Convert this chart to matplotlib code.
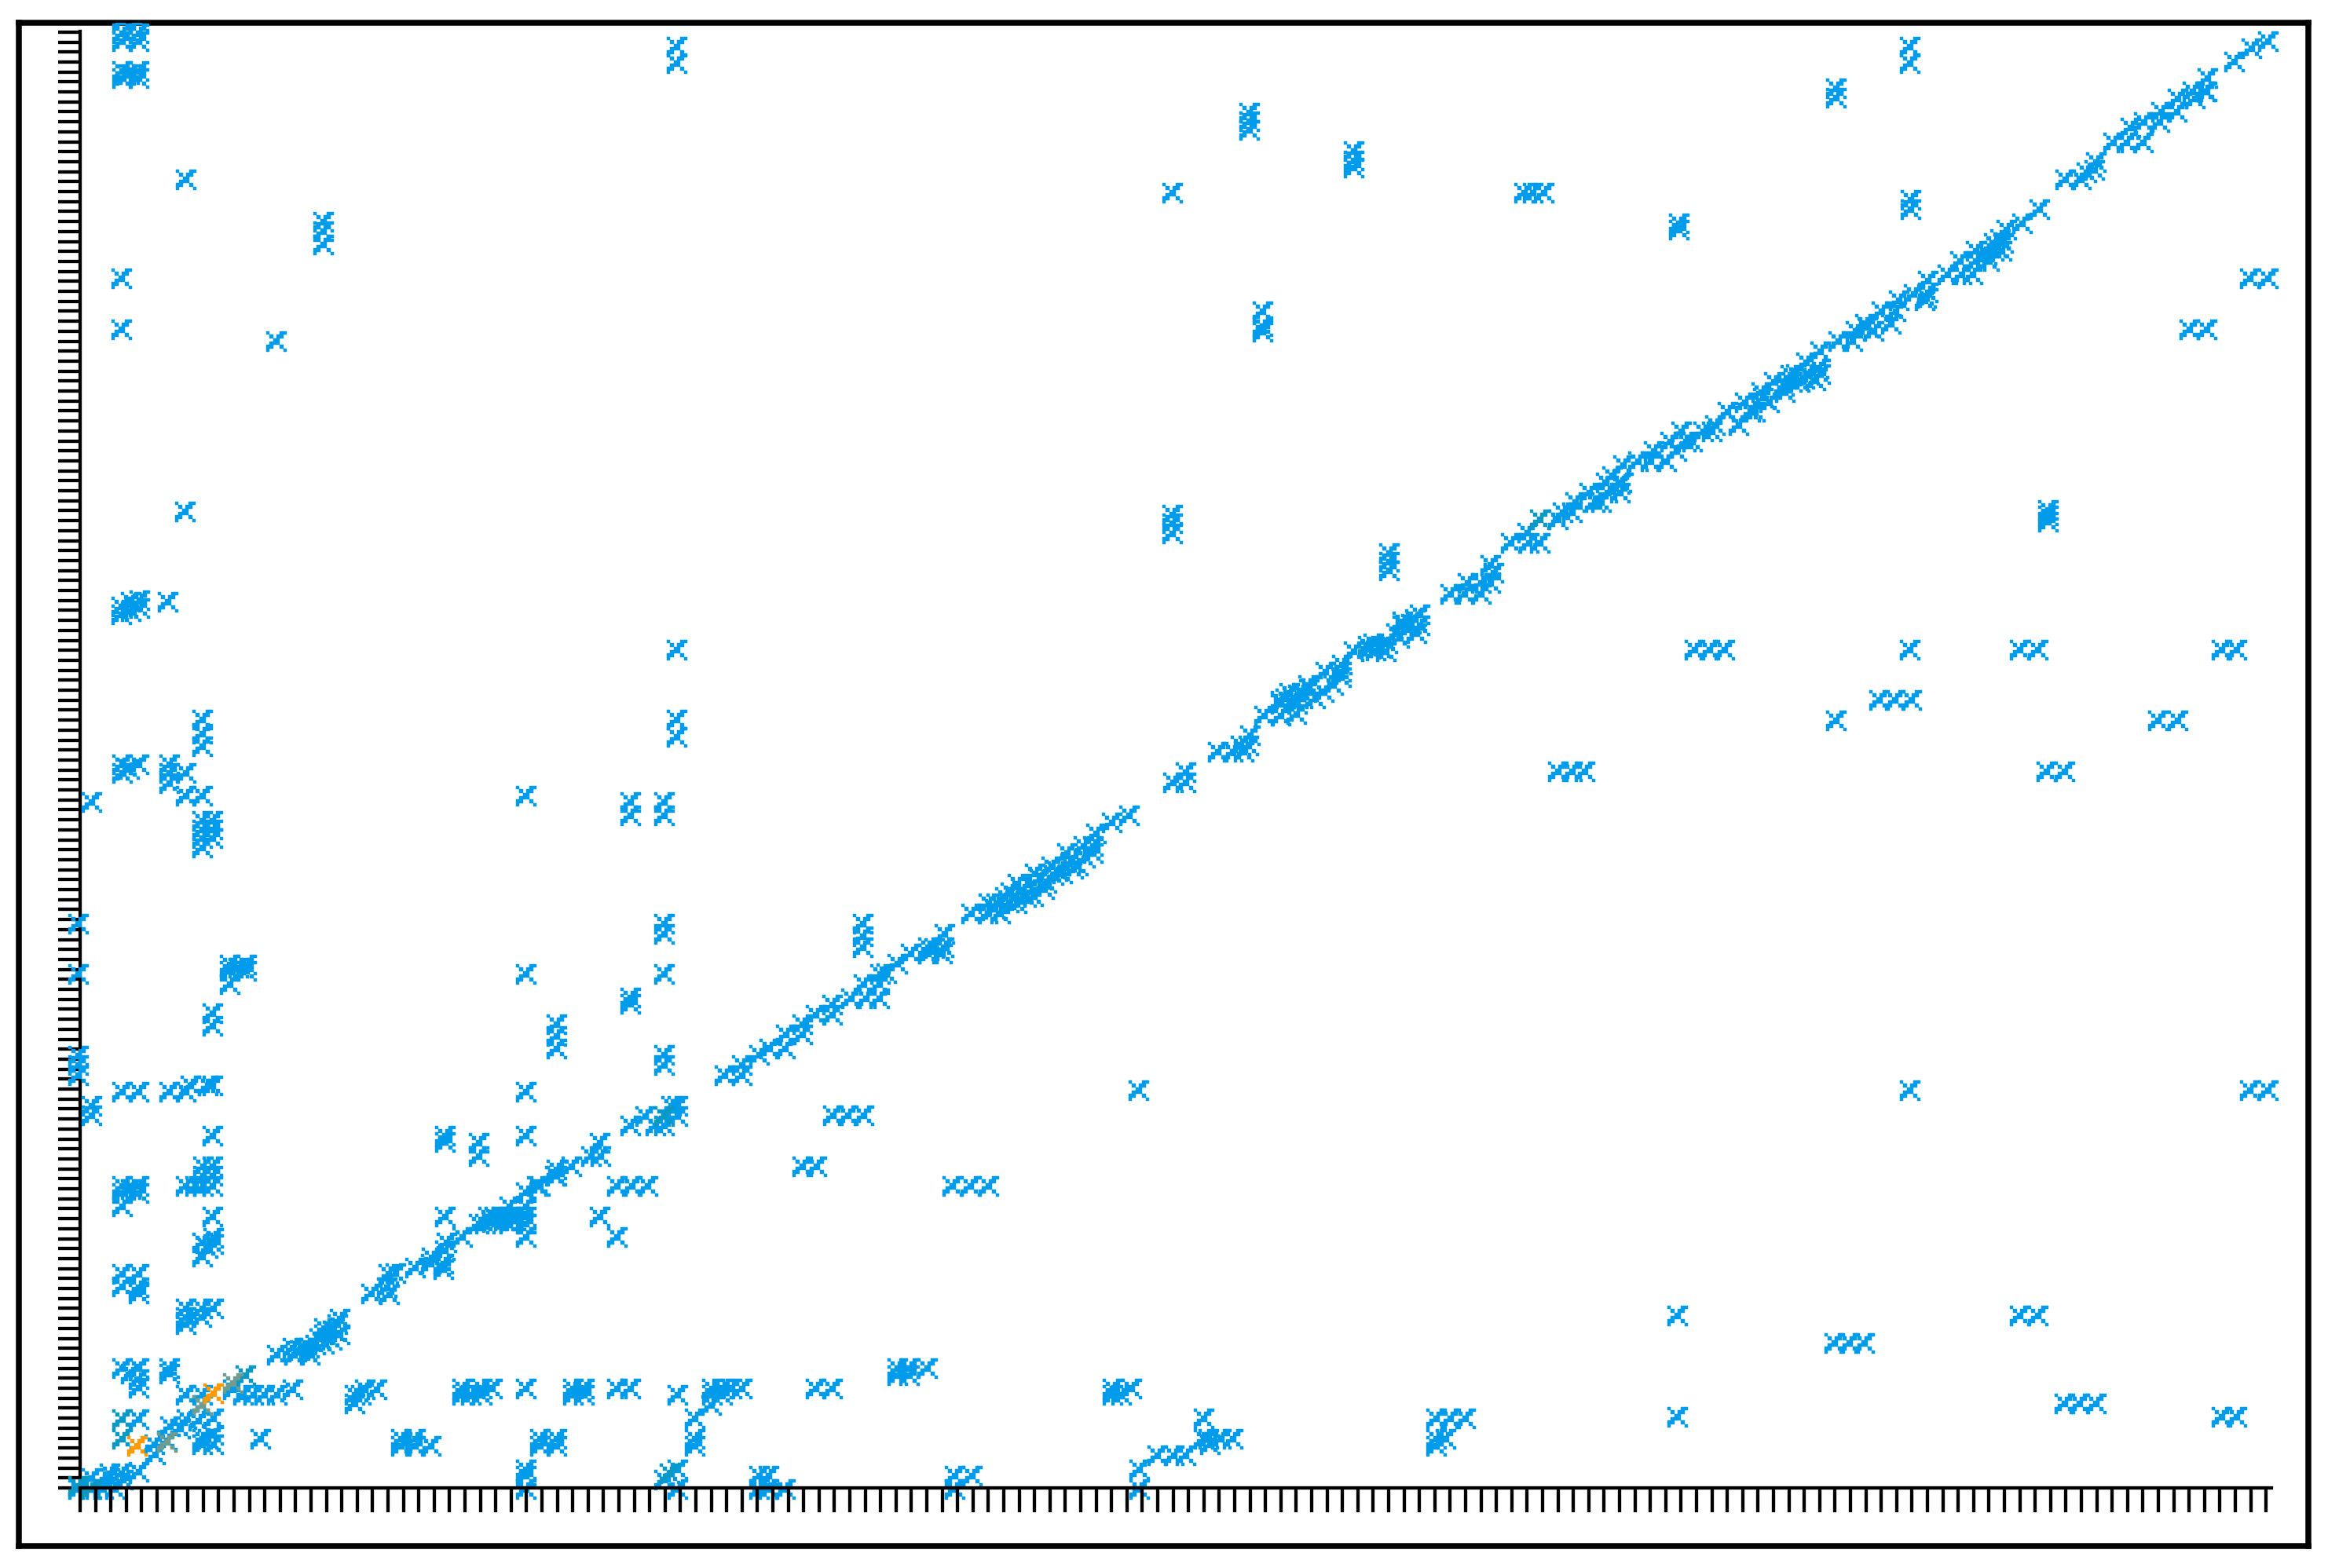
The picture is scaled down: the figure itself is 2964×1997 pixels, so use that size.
import numpy as np
from matplotlib import pyplot as plt
from matplotlib.path import Path

# Collect data: (x, y) pairs, one list per region
diag_low = [(-2, -2), (13, -2), (30, -2), (45, -2), (15, 12), (38, 12), (55, 10), (38, 18), (53, 18), (75, 20),
            (96, 42), (95, 55), (111, 60), (128, 75), (115, 78), (136, 87), (151, 85), (170, 88), (156, 105),
            (195, 125), (208, 118), (221, 118), (235, 118), (251, 118), (271, 125), (251, 169), (271, 178),
            (286, 178), (273, 169), (293, 169), (311, 183), (321, 188), (311, 195), (331, 195), (331, 215),
            (311, 203), (328, 208), (280, 175), (292, 178), (300, 182), (305, 190), (322, 200), (371, 247),
            (391, 255), (393, 272), (394, 246), (402, 273), (427, 280),
            (447, 285), (463, 285), (463, 278), (448, 293), (465, 302), (467, 312), (487, 319), (508, 336),
            (516, 336), (520, 345), (528, 345), (537, 345), (547, 345), (555, 345), (568, 345), (547, 336),
            (568, 336), (525, 338), (530, 342), (540, 340), (555, 340), (547, 358), (568, 358), (568, 376),
            (582, 384), (586, 384), (605, 397), (607, 397),
            (626, 409), (607, 405), (651, 422), (663, 422), (662, 439)]
diag_mid = [(701, 461), (720, 473), (733, 461), (744, 461), (753, 486), (761, 486), (761, 473), (821, 525),
            (843, 525), (843, 538), (865, 551), (878, 559), (898, 559), (899, 577), (920, 577), (920, 590),
            (937, 602), (958, 602), (958, 615), (982, 623), (1001, 623), (1018, 623),
            (998, 641), (1018, 641), (1019, 654), (1027, 655), (1041, 667), (1058, 680), (1080, 680), (1098, 680),
            (1100, 688), (1080, 688), (1088, 687), (1101, 705), (1135, 731), (1156, 731), (1172, 731), (1157, 744),
            (1167, 744), (1178, 752), (1193, 744), (1192, 752), (1194, 769), (1214, 753), (1216, 782), (1231, 770),
            (1237, 791), (1251, 782), (1257, 808), (1271, 792), (1278, 817), (1290, 808), (1290, 817), (1294, 833),
            (1165, 737), (1183, 745), (1185, 758), (1200, 760), (1205, 752), (1222, 775), (1228, 762), (1240, 780),
            (1245, 785), (1262, 797), (1265, 788), (1280, 802),
            (1314, 847), (1336, 856), (1392, 898), (1408, 898), (1408, 911), (1449, 937), (1468, 937), (1482, 937),
            (1478, 945), (1488, 945), (1490, 958), (1508, 983), (1529, 983), (1529, 1002), (1549, 985), (1529, 998),
            (1550, 998), (1535, 1005), (1545, 1003), (1540, 1012), (1556, 1012), (1557, 1005), (1573, 1005),
            (1551, 1010), (1584, 1013), (1565, 1017), (1564, 1022),
            (1596, 1022), (1606, 1032), (1586, 1039), (1606, 1039), (1607, 1048)]
diag_high = [(1622, 1065), (1643, 1068), (1650, 1066), (1663, 1065), (1640, 1072), (1655, 1070), (1647, 1075),
             (1665, 1075), (1680, 1082), (1676, 1088),
             (1702, 1088), (1684, 1098), (1695, 1100), (1706, 1098), (1700, 1106), (1684, 1103), (1706, 1112),
             (1745, 1138), (1763, 1138),
             (1784, 1138), (1767, 1152), (1784, 1152), (1796, 1152), (1800, 1165), (1796, 1175), (1822, 1203),
             (1845, 1203), (1859, 1203), (1843, 1216), (1882, 1233), (1888, 1242), (1900, 1242), (1904, 1255),
             (1929, 1255), (1937, 1255), (1922, 1267), (1945, 1267), (1961, 1267), (1961, 1278), (1943, 1280),
             (1963, 1280), (1951, 1288), (1965, 1302), (1984, 1307), (2000, 1307), (2020, 1307), (2004, 1320),
             (2033, 1320), (2053, 1332), (2025, 1332), (2045, 1332), (2039, 1345), (2067, 1345), (2078, 1345),
             (2082, 1353), (2112, 1353), (2098, 1370), (2133, 1370), (2127, 1370), (2120, 1382), (2151, 1382),
             (2143, 1388), (2141, 1395), (2171, 1395), (2157, 1408), (2170, 1403), (2180, 1408), (2185, 1418),
             (2190, 1408), (2178, 1417), (2196, 1412),
             (2198, 1433), (2214, 1425), (2210, 1410), (2202, 1417), (2216, 1418), (2216, 1447), (2239, 1460),
             (2257, 1460), (2261, 1473), (2284, 1473), (2276, 1478), (2273, 1482), (2306, 1482), (2294, 1498),
             (2312, 1498), (2316, 1512), (2349, 1512), (2335, 1520), (2351, 1515), (2353, 1522), (2353, 1537),
             (2378, 1545), (2396, 1545), (2410, 1545), (2394, 1562), (2414, 1562), (2431, 1562), (2414, 1575),
             (2428, 1570), (2437, 1575), (2440, 1580), (2447, 1575), (2437, 1585), (2445, 1590), (2449, 1585),
             (2453, 1602), (2473, 1610), (2495, 1628),
             (2528, 1666), (2548, 1666), (2565, 1678), (2555, 1675), (2567, 1688), (2589, 1713), (2606, 1713),
             (2627, 1713), (2611, 1732), (2628, 1739), (2648, 1739), (2650, 1752), (2670, 1752), (2671, 1769),
             (2693, 1769), (2690, 1778), (2706, 1778), (2708, 1778), (2709, 1795), (2743, 1816), (2765, 1833),
             (2786, 1842)]
left_top = [(54, 1842), (75, 1842), (54, 1852), (75, 1852), (54, 1867), (75, 1867), (54, 1795), (75, 1795),
            (54, 1804), (75, 1804), (63, 1800), (135, 1666), (53, 1540), (53, 1475), (134, 1243), (250, 1460),
            (310, 1612), (310, 1600), (310, 1583), (112, 1128), (53, 1122), (53, 1112), (65, 1128), (65, 1116),
            (76, 1130), (76, 1120), (760, 1835), (760, 1814), (760, 1067), (760, 978), (760, 956)]
left_mid = [(54, 921), (54, 910), (75, 921), (63, 915), (114, 921), (114, 910), (114, 897), (135, 910), (135, 881),
            (156, 881), (156, 978), (156, 960), (156, 944), (156, 849), (156, 838), (156, 827), (156, 815),
            (169, 849), (169, 838), (169, 827), (15, 873), (568, 881), (-2, 718), (-2, 654), (191, 666), (212, 666),
            (191, 658), (212, 658), (191, 641), (202, 662), (568, 654), (169, 604), (169, 588), (-2, 550), (-2, 538),
            (-2, 525), (15, 486), (15, 474), (54, 504), (75, 504), (114, 504), (135, 504), (141, 512), (163, 512),
            (169, 512), (169, 448), (54, 384), (54, 375), (54, 358), (75, 384), (75, 375), (65, 380), (135, 384),
            (157, 409), (169, 409), (157, 397), (169, 397), (157, 384), (169, 384), (147, 384), (169, 345),
            (465, 448), (465, 440), (465, 345), (701, 873), (701, 856), (744, 873), (744, 856), (744, 718), (744, 705),
            (744, 654), (701, 624), (701, 616), (607, 590), (607, 575), (607, 559), (744, 551), (744, 538), (568, 504),
            (508, 439), (508, 422), (568, 448), (568, 319), (662, 345), (684, 319), (684, 384), (703, 384), (723, 384),
            (959, 474), (978, 474), (998, 474), (920, 409), (938, 409), (997, 718), (997, 702), (997, 688)]
left_low = [(54, 272), (75, 272), (54, 256), (75, 247), (75, 255), (135, 228), (156, 228), (170, 228), (135, 208),
            (135, 217), (155, 217), (156, 312), (170, 318), (156, 294), (170, 310), (163, 305), (114, 152), (114, 145),
            (54, 152), (75, 152), (75, 138), (75, 127), (65, 145), (75, 87), (156, 55), (170, 55), (156, 62),
            (170, 67), (163, 62), (230, 62), (135, 118), (156, 118)]
bottom_row = [(350, 107), (350, 118), (363, 125), (378, 125), (358, 118), (487, 126), (512, 126), (525, 126),
              (487, 118), (498, 118), (512, 118), (568, 126), (628, 126), (642, 126), (628, 118), (642, 118),
              (684, 126), (701, 126), (761, 118), (805, 126), (818, 126), (830, 126), (843, 126), (805, 118),
              (818, 118), (804, 105), (783, 88), (783, 62), (783, 53), (937, 126), (958, 126), (1041, 152),
              (1056, 152), (1079, 152), (1041, 143), (1056, 143), (409, 62), (427, 62), (447, 53), (409, 53),
              (427, 53), (586, 62), (607, 62), (586, 53), (607, 53), (568, 23), (568, 15), (568, -2), (744, 10),
              (761, 23), (761, -2), (865, 15), (877, 15), (865, -2), (877, -2), (898, -2), (1114, 15), (1136, 15),
              (1114, -2), (1315, 126), (1339, 126), (1315, 118), (1326, 118), (1349, 23), (1349, -2), (1372, 41),
              (1393, 41), (1408, 41), (1431, 88), (1431, 62), (1437, 62), (1439, 55), (1453, 62), (1468, 62),
              (1727, 88), (1745, 88), (1764, 88), (1727, 62), (1727, 53), (1739, 62), (1111, 384), (1134, 384),
              (1157, 384)]
right_top = [(1391, 1649), (1489, 1751), (1489, 1740), (1489, 1729), (1622, 1702), (1622, 1690), (1622, 1681),
             (1839, 1649), (1850, 1649), (1864, 1649), (2036, 1610), (2036, 1602), (2236, 1782), (2236, 1770),
             (2330, 1835), (2330, 1814), (2331, 1640), (2331, 1628), (1506, 1498), (1506, 1479), (1506, 1472),
             (2686, 1475), (2708, 1475), (2763, 1540), (2786, 1540), (1391, 1239), (1391, 1228), (1391, 1215),
             (1667, 1190), (1667, 1179), (1667, 1168), (2506, 1245), (2506, 1238), (2506, 1230)]
right_mid = [(2056, 1067), (2075, 1067), (2094, 1067), (2330, 1067), (2470, 1067), (2493, 1067), (2727, 1067),
             (2746, 1067), (2291, 1003), (2311, 1003), (2332, 1003), (2236, 977), (2646, 977),
             (2671, 977), (1882, 912), (1900, 912), (1916, 912), (2504, 912), (2527, 912),
             (2330, 506), (1348, 506), (2763, 506), (2786, 506)]
right_low = [(2034, 219), (2470, 219), (2493, 219), (2034, 90), (2234, 184), (2253, 184), (2272, 184), (2527, 107),
             (2546, 107), (2567, 107), (2727, 90), (2746, 90)]
teal_pts = [(-2, 2), (15, -2), (54, 87), (54, 62), (744, 473), (751, 18), (1859, 1233), (211, 143)]
sage_pts = [(111, 58), (156, 105), (195, 133)]
orange_pts = [(73, 53), (170, 120)]

x_tick_step = 19.6
y_tick_step = 12.7
x_end = 2790
y_end = 1855

blue_pts = np.array(diag_low + diag_mid + diag_high + left_top + left_mid + left_low
                    + bottom_row + right_top + right_mid + right_low)

# Blocky cross drawn as a marker, one square per filled cell
cells = ['X...XX',
         '.X.XX.',
         '..XX..',
         '.XXX..',
         'XX..X.',
         'X....X']
verts, codes = [], []
for r, row in enumerate(cells):
    for c, ch in enumerate(row):
        if ch == 'X':
            x0, y0 = c - 3, 2 - r
            verts += [(x0, y0), (x0 + 1, y0), (x0 + 1, y0 + 1), (x0, y0 + 1), (x0, y0)]
            codes += [Path.MOVETO, Path.LINETO, Path.LINETO, Path.LINETO, Path.CLOSEPOLY]
cross = Path(verts, codes)

# Build figure
W, H = 2964, 1997
fig = plt.figure(figsize=[W / 100, H / 100], dpi=100)

# Outer black frame
frame = fig.add_axes([24 / W, (H - 1969) / H, (2938.5 - 24) / W, (1969 - 28.5) / H])
frame.set_xticks([])
frame.set_yticks([])
for s in frame.spines.values():
    s.set_linewidth(5.4)
    s.set_color('black')

ax = fig.add_axes([102 / W, (H - 1895) / H, x_end / W, y_end / H])
ax.patch.set_alpha(0)

# Plot data
size = (26 * 0.72)**2
for pts, col, z in [(blue_pts, '#009BEB', 3), (teal_pts, '#0A98C4', 3.1),
                    (sage_pts, '#6F9C90', 3.2), (orange_pts, '#FF9A00', 3.3)]:
    pts = np.array(pts)
    sc = ax.scatter(pts[:, 0], pts[:, 1], s=size, marker=cross, color=col,
                    linewidths=0.3, edgecolors='face', zorder=z)
    sc.set_clip_path(frame.patch)

# Ticks without labels
ax.set_xticks(np.arange(0, x_end, x_tick_step))
ax.set_yticks(np.arange(0, y_end, y_tick_step))
ax.set_xticklabels([])
ax.set_yticklabels([])
ax.tick_params(axis='x', length=22, width=3.1, color='black')
ax.tick_params(axis='y', length=20, width=3.1, color='black')

ax.set_xlim(0, x_end)
ax.set_ylim(0, y_end)

# Eliminate upper and right axes
ax.spines['right'].set_visible(False)
ax.spines['top'].set_visible(False)
ax.spines['left'].set_linewidth(3.1)
ax.spines['bottom'].set_linewidth(3.1)

# Blue sits over the left axis, the bottom axis sits over blue
ax.yaxis.set_zorder(1)
ax.spines['left'].set_zorder(1)
ax.xaxis.set_zorder(5)
ax.spines['bottom'].set_zorder(5)

plt.savefig('out.png', dpi=100)
